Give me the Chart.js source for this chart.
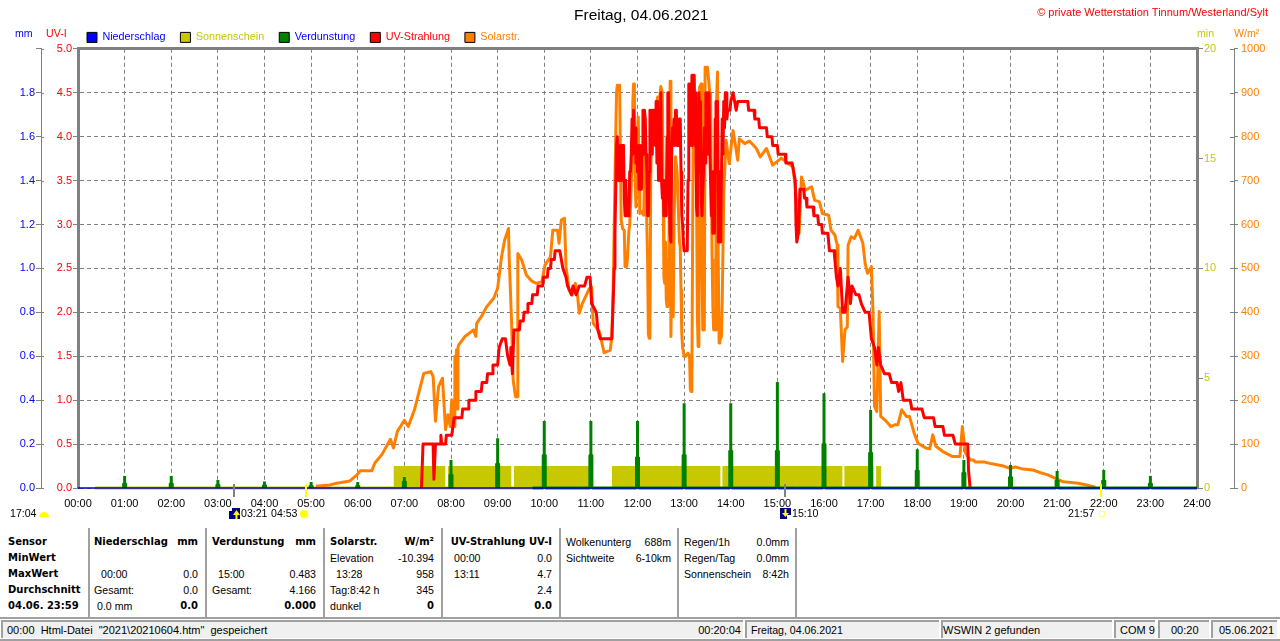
<!DOCTYPE html>
<html>
<head>
<meta charset="utf-8">
<title>Freitag, 04.06.2021</title>
<script src="https://cdn.jsdelivr.net/npm/chart.js@4"></script>
<style>
  html, body { margin: 0; padding: 0; background: #fff; overflow: hidden; }
  #page { position: relative; width: 1280px; height: 641px; font: 10.6px "Liberation Sans", Arial, sans-serif; color: #000; }
  #chartBox { position: absolute; left: 0; top: 0; width: 1280px; height: 525px; }
  .t { position: absolute; white-space: nowrap; line-height: 14px; }
  .b { font: bold 10px "DejaVu Sans", sans-serif; line-height: 14px; }
  .sep { position: absolute; background: #a0a0a0; }
  .cell { position: absolute; background: #f0f0f0; border-top: 2px solid #a0a0a0; border-left: 2px solid #a0a0a0; box-sizing: border-box; }
</style>
</head>
<body>
<div id="page">
  <div id="chartBox"><canvas id="wetter"></canvas></div>
</div>
<script>
// values, times in minutes after midnight
const solarMorningMinutes = [306,324,333,350,359,363,378,382,391,402,406,411,420,425,433,439,445,454,457,460,464,469,473,476,479,481,484,485,486,487,488,489,490,498,509,512,513,519,526,535,540,545,549,554,555,558,560,563,565,566,571,577,584,590,597,601,608,611,617,619,622,626,628,632,636,640,643,645,649,658,661,663,671,677,685,687];
const solarMorningWm2 = [4,7,11,16,30,39,39,57,76,111,91,129,154,140,178,220,261,265,254,152,231,250,133,167,140,201,140,300,200,314,180,320,326,345,360,345,375,390,413,432,455,526,564,591,519,375,246,208,208,534,519,485,471,466,470,508,526,587,587,557,610,614,504,451,439,466,436,398,420,454,458,375,356,308,314,345];
const solarNoonMinutes = [689,691,693,694,697,698,699,701,703,704,706,707,709,710,711,713,714,715,716,717,718,719,720,721,722,723,725,728,729,730,731,732,733,734,735,736,737,738,740,741,743,745,746,748,750,752,753,754,755,756,757,758,759,760,761,762,763,764,765,766,767,769,771,773,774,775,776,777,778,780,782,785,787,788,789,790,791,792,794,796,797,798,799,800,802,803,804,806,807,810,813,814,815,816,817,818,819,820,821,822,823,824,825,826,828,829,831,834];
const solarNoonWm2 = [481,700,900,917,917,760,610,590,587,504,504,520,587,600,640,746,880,920,920,700,640,700,760,845,720,625,630,621,700,799,700,600,519,350,341,345,700,799,830,852,800,880,890,880,914,900,678,480,466,560,430,413,520,430,670,926,345,500,420,390,600,754,720,610,560,549,450,352,320,300,300,307,300,225,220,240,600,905,880,670,400,322,330,913,920,500,360,360,958,958,900,898,700,520,413,360,400,360,700,900,947,500,330,335,345,420,670,792];
const solarLateMinutes = [838,843,849,851,858,864,873,878,886,894,905,920,924,928,931,936,944,948,954,958,966,969,974,977,978,981,984,987,990,991,995,999,1004,1010,1013,1016,1021,1023,1025,1028,1031,1033,1040,1046,1051,1055,1060,1066,1070,1076,1081,1091,1096,1100,1104,1113,1125,1135,1138,1142,1148,1152,1155,1167,1176,1191,1199,1206,1216,1229,1240,1248,1260,1268,1287,1298,1309];
const solarLateWm2 = [739,814,746,795,784,790,773,754,773,735,751,731,670,580,708,678,686,655,652,625,621,587,576,553,413,409,288,360,367,553,572,568,587,557,511,489,504,405,186,174,402,163,152,140,144,144,178,163,163,125,102,91,89,121,95,83,72,72,140,80,64,64,59,59,55,50,45,48,43,41,34,30,20,14,11,7,2];

const uvMorningMinutes = [442,444,457,458,460,466,467,468,473,474,481,484,494,495,502,503,511,512,519,520,526,527,533,534,540,542,546,550,553,556,557,559,561,568,569,573,574,578,579,584,585,591,592,598,599,604,605,608,609,613,614,620,624,628,630,635,637,641,645,652,655,659,661,667,669,672,687];
const uvMorningIndex = [0,0.5,0.5,0.1,0.5,0.5,0.6,0.5,0.5,0.6,0.6,0.8,0.8,0.9,0.9,1.0,1.0,1.1,1.1,1.2,1.2,1.3,1.3,1.4,1.4,1.6,1.7,1.7,1.5,1.4,1.6,1.3,1.8,1.8,1.9,1.9,2.0,2.0,2.1,2.1,2.2,2.2,2.3,2.3,2.4,2.4,2.5,2.5,2.6,2.6,2.7,2.7,2.5,2.4,2.3,2.2,2.3,2.2,2.3,2.3,2.4,2.4,2.1,2.0,1.8,1.7,1.7];
// one reading per minute from 11:29 on
const uvNoonStart = 689;
const uvNoonIndex = [2.2,2.5,2.9,3.4,3.9,4.0,3.5,3.9,3.5,3.7,
  3.9,3.5,3.9,3.9,3.3,3.1,3.5,3.1,3.1,3.3,
  3.1,3.6,3.6,3.8,4.2,3.8,4.3,3.9,4.1,3.7,
  3.9,3.6,3.9,3.4,3.9,3.5,3.4,3.9,4.3,3.8,
  4.3,4.2,3.8,3.6,3.1,3.1,3.6,4.3,3.9,4.3,
  3.8,4.3,4.0,4.3,3.9,4.4,3.7,4.4,3.5,4.3,
  3.5,4.5,3.5,3.3,3.5,3.1,3.1,3.3,3.1,4.0,
  4.5,4.5,3.3,2.9,2.8,3.8,4.1,4.0,4.2,3.9,
  4.3,4.3,3.9,4.1,3.9,4.2,4.2,3.6,3.1,3.0,
  2.8,2.7,2.7,2.7,2.7,2.7,3.5,4.6,4.2,4.6,
  3.9,4.7,4.7,4.3,4.7,3.9,4.5,3.2,3.1,3.9,
  4.5,3.6,4.4,3.3,3.1,3.4,3.6,4.1,3.7,4.5,
  4.0,4.5,3.8,4.5,3.9,3.5,3.1,3.6,2.9,3.4,
  2.9,4.2,4.4,3.6,4.4,2.8,3.6,2.8,2.8,3.5,
  4.2,3.8,4.4,4.1,4.5,4.5,4.2,4.3];
const uvLateMinutes = [839,840,843,847,849,862,863,870,871,876,877,886,887,893,894,900,901,910,911,919,923,924,925,927,929,934,935,937,938,946,947,952,953,957,958,965,966,967,973,974,976,978,981,984,987,991,994,996,1001,1005,1008,1013,1018,1021,1025,1028,1030,1033,1038,1044,1047,1054,1056,1059,1062,1071,1073,1086,1089,1101,1103,1113,1115,1126,1129,1145,1146,1148];
const uvLateIndex = [4.3,4.4,4.5,4.3,4.4,4.4,4.3,4.3,4.2,4.2,4.1,4.1,4.0,4.0,3.9,3.9,3.8,3.8,3.7,3.7,3.5,3.0,2.8,2.9,3.4,3.4,3.3,3.3,3.2,3.2,3.1,3.1,3.0,3.0,2.9,2.9,2.8,2.7,2.7,2.6,2.4,2.3,2.5,2.0,2.0,2.4,2.1,2.3,2.2,2.2,2.1,2.0,2.0,1.7,1.6,1.4,1.6,1.4,1.3,1.3,1.2,1.2,1.1,1.2,1.0,1.0,0.9,0.9,0.8,0.8,0.7,0.7,0.6,0.6,0.5,0.5,0.2,0];

const evapHours = [1,2,3,4,5,6,7,8,9,10,11,12,13,14,15,16,17,18,19,20,21,22,23];
const evapPeak = [0.055,0.055,0.036,0.03,0.027,0.027,0.05,0.127,0.227,0.305,0.305,0.305,0.386,0.386,0.483,0.432,0.355,0.177,0.127,0.105,0.077,0.082,0.055];
const evapShoulder = [0.02,0.02,0.015,0.012,0.01,0.01,0.03,0.06,0.11,0.15,0.15,0.14,0.15,0.17,0.17,0.2,0.16,0.08,0.07,0.05,0.035,0.035,0.02];
const evapBaseStart = 585;

const sunStart = [406,476,561,687,829,986,1027];
const sunEnd = [473,558,659,827,984,1024,1034];
const sunBaseRange = [22,585];

const rainMinutes = [0,1440];
const rainValues = [0,0];

const seriesNames = ['Niederschlag','Sonnenschein','Verdunstung','UV-Strahlung','Solarstr.'];
const seriesColors = ['#0000ff','#c8c800','#008000','#ff0000','#ff8000'];
const seriesText = ['#0000ff','#c8c800','#0000ff','#ff0000','#ff8000'];

const markerMinutes = [201,293,910,1317];
const markerColors = ['#808080','#ffff00','#808080','#ffff00'];

const GRID = '#808080';
const FONT = '"Liberation Sans", Arial, sans-serif';
Chart.defaults.font.family = FONT;
Chart.defaults.font.size = 11;

function points(xs, ys) {
  return xs.map((x, i) => ({ x: x, y: ys[i] }));
}

function solarPoints() {
  return points(solarMorningMinutes, solarMorningWm2)
    .concat(points(solarNoonMinutes, solarNoonWm2), points(solarLateMinutes, solarLateWm2));
}

function uvPoints() {
  const noon = uvNoonIndex.map((v, i) => ({ x: uvNoonStart + i, y: v }));
  return points(uvMorningMinutes, uvMorningIndex).concat(noon, points(uvLateMinutes, uvLateIndex));
}

function sunPoints() {
  const out = [];
  sunStart.forEach((s, i) => {
    out.push({ x: s, y: 1 }, { x: sunEnd[i], y: 1 }, { x: sunEnd[i], y: null });
  });
  return out;
}

function evapPoints() {
  const out = [];
  evapHours.forEach((h, i) => {
    const m = h * 60;
    if (m === 600) out.push({ x: evapBaseStart, y: 0 });
    out.push({ x: m - 1.3, y: 0 }, { x: m - 1.3, y: evapShoulder[i] }, { x: m, y: evapShoulder[i] },
      { x: m, y: evapPeak[i] }, { x: m, y: evapShoulder[i] }, { x: m + 1.3, y: evapShoulder[i] }, { x: m + 1.3, y: 0 });
    if (m < 600) out.push({ x: m + 1.3, y: null });
  });
  out.push({ x: 1440, y: 0 });
  return out;
}

function hhmm(v) {
  return String(v / 60).padStart(2, '0') + ':00';
}

// legend sits further left and lower than Chart.js would put it, extra tick stubs, day markers
const wetterMarks = {
  id: 'wetterMarks',
  afterLayout(chart) {
    chart.legend.left -= 6;
    chart.legend.top += 4;
  },
  afterDatasetsDraw(chart) {
    const c = chart.ctx, sx = chart.scales.x;
    c.save();
    c.strokeStyle = GRID;
    c.lineWidth = 1;
    ['yMM', 'yW'].forEach(id => {
      const s = chart.scales[id], dx = id === 'yMM' ? s.right : s.left;
      const dir = id === 'yMM' ? 3 : -4;
      s.ticks.forEach(t => {
        const y = Math.round(s.getPixelForValue(t.value)) + 0.5;
        c.beginPath(); c.moveTo(dx, y); c.lineTo(dx + dir, y); c.stroke();
      });
    });
    c.lineWidth = 2;
    markerMinutes.forEach((m, i) => {
      const x = Math.round(sx.getPixelForValue(m));
      c.strokeStyle = markerColors[i];
      c.beginPath(); c.moveTo(x, 484); c.lineTo(x, 497); c.stroke();
    });
    // moon and sun icons under the time axis
    c.fillStyle = '#ffff00';
    c.beginPath(); c.arc(44, 517, 5, Math.PI, 0); c.fill();
    c.beginPath(); c.arc(304, 514, 4, 0, Math.PI * 2); c.fill();
    c.strokeStyle = '#ffff80'; c.lineWidth = 1;
    c.strokeRect(1099.5, 511.5, 5, 5);
    c.fillStyle = '#000080';
    c.fillRect(229, 508, 11, 11);
    c.fillRect(780, 508, 11, 11);
    c.fillStyle = '#ffffff';
    c.fillRect(229, 508, 3, 3);
    c.fillRect(787, 515, 4, 4);
    c.fillStyle = '#ffff00';
    c.beginPath(); c.moveTo(233, 515); c.lineTo(236.5, 510); c.lineTo(240, 515); c.fill();
    c.fillRect(235.5, 515, 2, 4);
    c.beginPath(); c.moveTo(782, 513); c.lineTo(785.5, 517); c.lineTo(789, 513); c.fill();
    c.fillRect(784.5, 509, 2, 4);
    c.restore();
  }
};

new Chart(document.getElementById('wetter').getContext('2d'), {
  type: 'line',
  plugins: [wetterMarks],
  data: {
    datasets: [
      { label: 'Niederschlag', yAxisID: 'yMM', data: points(rainMinutes, rainValues), borderColor: '#0000c0', borderWidth: 1.5, order: 1 },
      { label: 'Sonnenschein', yAxisID: 'ySun', data: sunPoints(), borderColor: 'transparent', borderWidth: 0, backgroundColor: seriesColors[1], fill: 'origin', order: 7 },
      { label: 'Sonnenschein Basis', yAxisID: 'ySun', data: points(sunBaseRange, [0, 0]), borderColor: seriesColors[1], borderWidth: 3, order: 6 },
      { label: 'Verdunstung', yAxisID: 'yMM', data: evapPoints(), borderColor: seriesColors[2], borderWidth: 3, borderJoinStyle: 'bevel', order: 2 },
      { label: 'UV-Strahlung', yAxisID: 'yUV', data: uvPoints(), borderColor: seriesColors[3], borderWidth: 3, order: 3 },
      { label: 'Solarstr.', yAxisID: 'yW', data: solarPoints(), borderColor: seriesColors[4], borderWidth: 3, order: 4 }
    ]
  },
  options: {
    responsive: true,
    maintainAspectRatio: false,
    animation: false,
    parsing: { xAxisKey: 'x', yAxisKey: 'y' },
    elements: { point: { radius: 0 }, line: { tension: 0, borderJoinStyle: 'round' } },
    datasets: { line: { clip: 5, spanGaps: false } },
    layout: { padding: { top: 13 } },
    plugins: {
      tooltip: { enabled: false },
      legend: {
        position: 'top',
        align: 'start',
        fullSize: false,
        labels: {
          boxWidth: 10,
          boxHeight: 10,
          padding: 15,
          font: { size: 10.8 },
          generateLabels: () => seriesNames.map((n, i) => ({
            text: n,
            fillStyle: seriesColors[i],
            strokeStyle: '#000',
            lineWidth: 1,
            fontColor: seriesText[i],
            datasetIndex: i
          }))
        }
      }
    },
    scales: {
      x: {
        type: 'linear', min: 0, max: 1440,
        afterFit: s => { s.height = 37; },
        grid: { color: GRID, drawTicks: false },
        border: { display: false, dash: [4, 3] },
        ticks: { stepSize: 60, autoSkip: false, maxRotation: 0, padding: 9, color: '#000', callback: hhmm }
      },
      xTop: {
        type: 'linear', position: 'top', min: 0, max: 1440,
        afterFit: s => { s.height = 0; },
        grid: { display: false },
        border: { display: true, color: GRID, width: 3 },
        ticks: { display: false }
      },
      yUV: {
        position: 'left', weight: 0, min: 0, max: 5,
        afterFit: s => { s.width = 37; },
        grid: { color: GRID, tickColor: GRID, tickLength: 5 },
        border: { color: GRID, width: 3, dash: [4, 3] },
        ticks: { stepSize: 0.5, padding: 1, color: '#ff0000', callback: v => v.toFixed(1) }
      },
      yMM: {
        position: 'left', weight: 1, min: 0, max: 2,
        afterFit: s => { s.width = 41; },
        grid: { drawOnChartArea: false, color: GRID, tickColor: GRID, tickLength: 5 },
        border: { color: GRID, width: 1 },
        ticks: { stepSize: 0.2, padding: 1, color: '#0000ff', callback: v => (v > 1.9 ? '' : v.toFixed(1)) }
      },
      ySun: {
        position: 'right', weight: 0, min: 0, max: 20,
        afterFit: s => { s.width = 37; },
        grid: { drawOnChartArea: false, color: GRID, tickColor: GRID, tickLength: 6 },
        border: { color: GRID, width: 3 },
        ticks: { stepSize: 5, padding: 1, color: '#c8c800' }
      },
      yW: {
        position: 'right', weight: 1, min: 0, max: 1000,
        afterFit: s => { s.width = 46; },
        grid: { drawOnChartArea: false, color: GRID, tickColor: GRID, tickLength: 4 },
        border: { color: GRID, width: 1 },
        ticks: { stepSize: 100, padding: 3, color: '#ff8000', callback: v => String(v) }
      }
    }
  }
});

// texts around the chart
const page = document.getElementById('page');
function put(text, x, y, o) {
  o = o || {};
  const el = document.createElement('div');
  el.className = 't' + (o.bold ? ' b' : '');
  el.textContent = text;
  el.style.top = (y - 7) + 'px';
  if (o.right) el.style.right = (1280 - x) + 'px'; else el.style.left = x + 'px';
  if (o.color) el.style.color = o.color;
  if (o.size) el.style.fontSize = o.size + 'px';
  page.appendChild(el);
}

put('Freitag, 04.06.2021', 574, 15, { size: 15.5 });
put('© private Wetterstation Tinnum/Westerland/Sylt', 1268, 12, { right: true, color: '#ff0000', size: 11 });
put('mm', 15, 33, { color: '#0000ff' });
put('UV-I', 46, 33, { color: '#ff0000' });
put('min', 1197, 33, { color: '#c8c800' });
put('W/m²', 1234, 33, { color: '#ff8000' });

put('17:04', 10, 513);
put('03:21', 241, 513);
put('04:53', 271, 513);
put('15:10', 792, 513);
put('21:57', 1068, 513);

[88, 205, 323, 441, 559, 677, 795].forEach(x => {
  const s = document.createElement('div');
  s.className = 'sep';
  s.style.cssText = 'left:' + x + 'px;top:528px;width:2px;height:89px';
  page.appendChild(s);
});

const rowY = [542, 558, 574, 590, 606];
const leftCols = [
  [8, ['Sensor', 'MinWert', 'MaxWert', 'Durchschnitt', '04.06. 23:59'], [1, 1, 1, 1, 1]],
  [94, ['Niederschlag', '', '', 'Gesamt:', ''], [1, 0, 0, 0, 0]],
  [212, ['Verdunstung', '', '', 'Gesamt:', ''], [1, 0, 0, 0, 0]],
  [330, ['Solarstr.', 'Elevation', '', 'Tag:8:42 h', 'dunkel'], [1, 0, 0, 0, 0]],
  [566, ['Wolkenunterg', 'Sichtweite', '', '', ''], [0, 0, 0, 0, 0]],
  [684, ['Regen/1h', 'Regen/Tag', 'Sonnenschein', '', ''], [0, 0, 0, 0, 0]]
];
const rightCols = [
  [198, ['mm', '', '0.0', '0.0', '0.0'], [1, 0, 0, 0, 1]],
  [316, ['mm', '', '0.483', '4.166', '0.000'], [1, 0, 0, 0, 1]],
  [434, ['W/m²', '-10.394', '958', '345', '0'], [1, 0, 0, 0, 1]],
  [552, ['UV-Strahlung UV-I', '0.0', '4.7', '2.4', '0.0'], [1, 0, 0, 0, 1]],
  [671, ['688m', '6-10km', '', '', ''], [0, 0, 0, 0, 0]],
  [789, ['0.0mm', '0.0mm', '8:42h', '', ''], [0, 0, 0, 0, 0]]
];
leftCols.forEach(c => c[1].forEach((t, i) => { if (t) put(t, c[0], rowY[i], { bold: c[2][i] }); }));
rightCols.forEach(c => c[1].forEach((t, i) => { if (t) put(t, c[0], rowY[i], { right: true, bold: c[2][i] }); }));
put('00:00', 101, 574);
put('0.0 mm', 97, 606);
put('15:00', 218, 574);
put('13:28', 336, 574);
put('00:00', 454, 558);
put('13:11', 454, 574);

// status bar
[[0, 617, 1280, 2], [0, 639, 1280, 2]].forEach(r => {
  const s = document.createElement('div');
  s.className = 'sep';
  s.style.cssText = 'left:' + r[0] + 'px;top:' + r[1] + 'px;width:' + r[2] + 'px;height:' + r[3] + 'px';
  page.appendChild(s);
});
[[1, 743], [745, 939], [941, 1112], [1114, 1155], [1158, 1209], [1211, 1277]].forEach(r => {
  const s = document.createElement('div');
  s.className = 'cell';
  s.style.cssText = 'left:' + r[0] + 'px;top:620px;width:' + (r[1] - r[0]) + 'px;height:18px';
  page.appendChild(s);
});
put('00:00\u00a0\u00a0Html-Datei\u00a0\u00a0"2021\\20210604.htm"\u00a0\u00a0gespeichert', 7, 630, { size: 11 });
put('00:20:04', 741, 630, { right: true, size: 11 });
put('Freitag, 04.06.2021', 751, 630);
put('WSWIN 2 gefunden', 943, 630, { size: 11 });
put('COM 9', 1120, 630, { size: 11 });
put('00:20', 1171, 630, { size: 11 });
put('05.06.2021', 1219, 630, { size: 11 });
</script>
</body>
</html>
